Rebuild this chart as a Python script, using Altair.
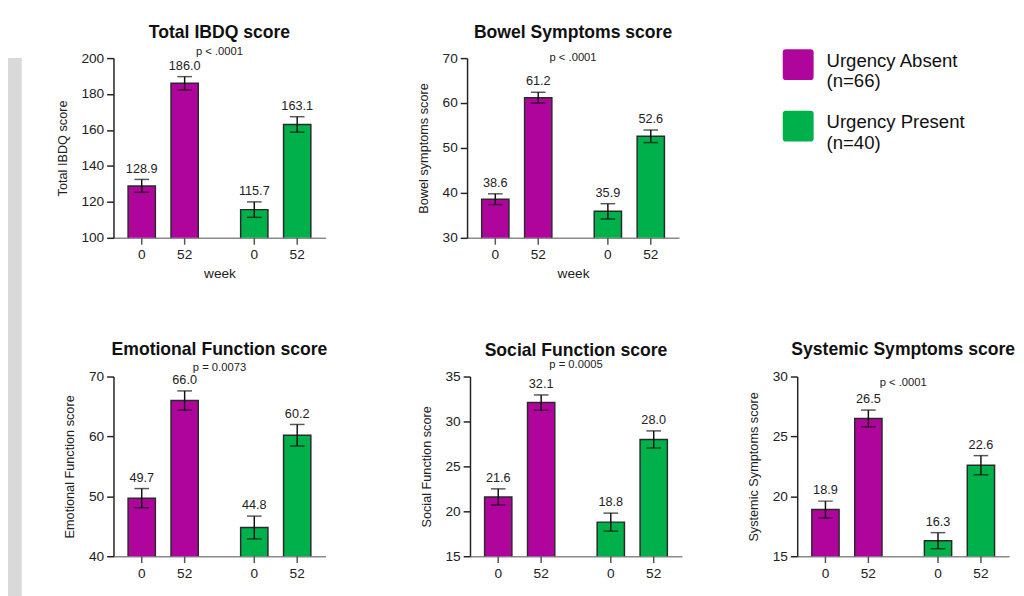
import altair as alt
import pandas as pd

# ---------------- data ----------------
groups = ["Urgency Absent", "Urgency Present"]
group_n = [66, 40]
weeks = ["0", "52"]

panel_titles = ["Total IBDQ score", "Bowel Symptoms score", "Emotional Function score",
                "Social Function score", "Systemic Symptoms score"]
y_titles = ["Total IBDQ score", "Bowel symptoms score", "Emotional Function score",
            "Social Function score", "Systemic Symptoms score"]
p_values = ["p < .0001", "p < .0001", "p = 0.0073", "p = 0.0005", "p < .0001"]

# order: Absent wk0, Absent wk52, Present wk0, Present wk52
total_mean = [128.9, 186.0, 115.7, 163.1]
total_err = [3.6, 3.7, 4.3, 4.3]
bowel_mean = [38.6, 61.2, 35.9, 52.6]
bowel_err = [1.2, 1.2, 1.7, 1.4]
emotional_mean = [49.7, 66.0, 44.8, 60.2]
emotional_err = [1.6, 1.6, 1.9, 1.8]
social_mean = [21.6, 32.1, 18.8, 28.0]
social_err = [0.9, 0.85, 1.0, 0.95]
systemic_mean = [18.9, 26.5, 16.3, 22.6]
systemic_err = [0.7, 0.7, 0.67, 0.8]

y_domains = [[100, 200], [30, 70], [40, 70], [15, 35], [15, 30]]
y_ticks = [[100, 120, 140, 160, 180, 200], [30, 40, 50, 60, 70], [40, 50, 60, 70],
           [15, 20, 25, 30, 35], [15, 20, 25, 30]]

# ---------------- styling ----------------
PURPLE = "#B0059C"
GREEN = "#00B04A"
FONT = "Liberation Sans"
W, H = 217, 184
TXT = "#222222"

group_keys = [f"{g}|(n={n})" for g, n in zip(groups, group_n)]

# title block tuning per panel: (offset, subtitlePadding)
title_tune = [(-6, 4), (-12, 10), (-4, 4), (-1, 0), (-19, 19)]

rounded = ("M-0.8,-1.15H0.8Q1,-1.15 1,-0.95V0.65Q1,0.85 0.8,0.85H-0.8"
           "Q-1,0.85 -1,0.65V-0.95Q-1,-1.15 -0.8,-1.15Z")


def panel(i, means, errs, week_title=True, legend=False):
    rows = []
    k = 0
    for gk in group_keys:
        for w in weeks:
            rows.append(dict(group=gk, week=w, mean=means[k],
                             lo=means[k] - errs[k], hi=means[k] + errs[k]))
            k += 1
    df = pd.DataFrame(rows)

    x = alt.X("group:N", sort=group_keys,
              scale=alt.Scale(paddingInner=0.117, paddingOuter=0),
              axis=alt.Axis(labels=False, ticks=False, domainColor="#8a8a8a", domainWidth=1.5,
                            title="week" if week_title else None, titleFontSize=14,
                            titleFontWeight="normal", titlePadding=30, titleColor=TXT,
                            titleFont=FONT))
    xo = alt.XOffset("week:N", sort=weeks,
                     scale=alt.Scale(paddingInner=0.364, paddingOuter=0.34))
    yscale = alt.Scale(domain=y_domains[i], nice=False, zero=False)
    yaxis = alt.Axis(values=y_ticks[i], title=y_titles[i], grid=False,
                     labelFontSize=14, labelFont=FONT, labelColor=TXT, labelPadding=3,
                     tickSize=7, tickWidth=1.5, tickColor=TXT,
                     domainColor=TXT, domainWidth=1.5,
                     titleFontSize=13, titleFont=FONT, titleFontWeight="normal",
                     titleColor=TXT, titlePadding=12)

    def Y(field):
        return alt.Y(f"{field}:Q", scale=yscale, axis=yaxis)

    if legend:
        leg = alt.Legend(orient="none", legendX=793, legendY=-7, title=None,
                         symbolType=rounded, symbolSize=1000, symbolStrokeWidth=0,
                         symbolOpacity=1, labelFontSize=19, labelFont=FONT,
                         labelColor="#111111", labelExpr="split(datum.label, '|')",
                         labelBaseline="alphabetic", labelOffset=13, rowPadding=19,
                         labelLimit=300, padding=0)
    else:
        leg = None

    base = alt.Chart(df).encode(x=x, xOffset=xo)
    bars = base.mark_bar(stroke="#2a2a2a", strokeWidth=1.5, opacity=1, clip=True).encode(
        y=Y("mean"),
        color=alt.Color("group:N", scale=alt.Scale(domain=group_keys, range=[PURPLE, GREEN]),
                        legend=leg))
    err = base.mark_rule(color="#111111", strokeWidth=1.5).encode(y=Y("lo"), y2="hi:Q")
    cap_lo = base.mark_tick(color="#111111", size=15, thickness=1.5).encode(y=Y("lo"))
    cap_hi = base.mark_tick(color="#111111", size=15, thickness=1.5).encode(y=Y("hi"))
    labels = base.mark_text(dy=-4, baseline="bottom", fontSize=13, font=FONT, color=TXT).encode(
        y=Y("hi"), text=alt.Text("mean:Q", format=".1f"))
    wlabels = base.mark_text(baseline="top", fontSize=14, font=FONT, color=TXT).encode(
        y=alt.value(H + 11), text="week:N")
    wticks = base.mark_rule(color="#555555", strokeWidth=1.5).encode(
        y=alt.value(H), y2=alt.value(H + 7))

    off, spad = title_tune[i]
    return alt.layer(bars, err, cap_lo, cap_hi, labels, wlabels, wticks).properties(
        width=W, height=H,
        title=alt.Title(panel_titles[i], subtitle=p_values[i], anchor="middle",
                        font=FONT, fontSize=18, fontWeight="bold", color="#111111",
                        subtitleFont=FONT, subtitleFontSize=11.5, subtitleColor=TXT,
                        subtitlePadding=spad, offset=off))


p1 = panel(0, total_mean, total_err, legend=True)
p2 = panel(1, bowel_mean, bowel_err)
p4 = panel(2, emotional_mean, emotional_err, week_title=False)
p5 = panel(3, social_mean, social_err, week_title=False)
p6 = panel(4, systemic_mean, systemic_err, week_title=False)

row1 = alt.hconcat(p1, p2, spacing=94)
row2 = alt.hconcat(alt.hconcat(p4, p5, spacing=94), p6, spacing=67)
grid = alt.vconcat(row1, row2, spacing=61)

strip = alt.Chart(pd.DataFrame({"a": [0]})).mark_rect(color="#d9d9d9").encode(
    x=alt.value(0), x2=alt.value(14), y=alt.value(0), y2=alt.value(570)
).properties(width=14, height=570)

chart = alt.hconcat(strip, grid, spacing=35).properties(
    padding={"left": 0, "top": 9, "right": 0, "bottom": 0}
).configure(font=FONT).configure_view(stroke=None)

chart.save("out.html", embed_options={"renderer": "svg", "actions": False})
